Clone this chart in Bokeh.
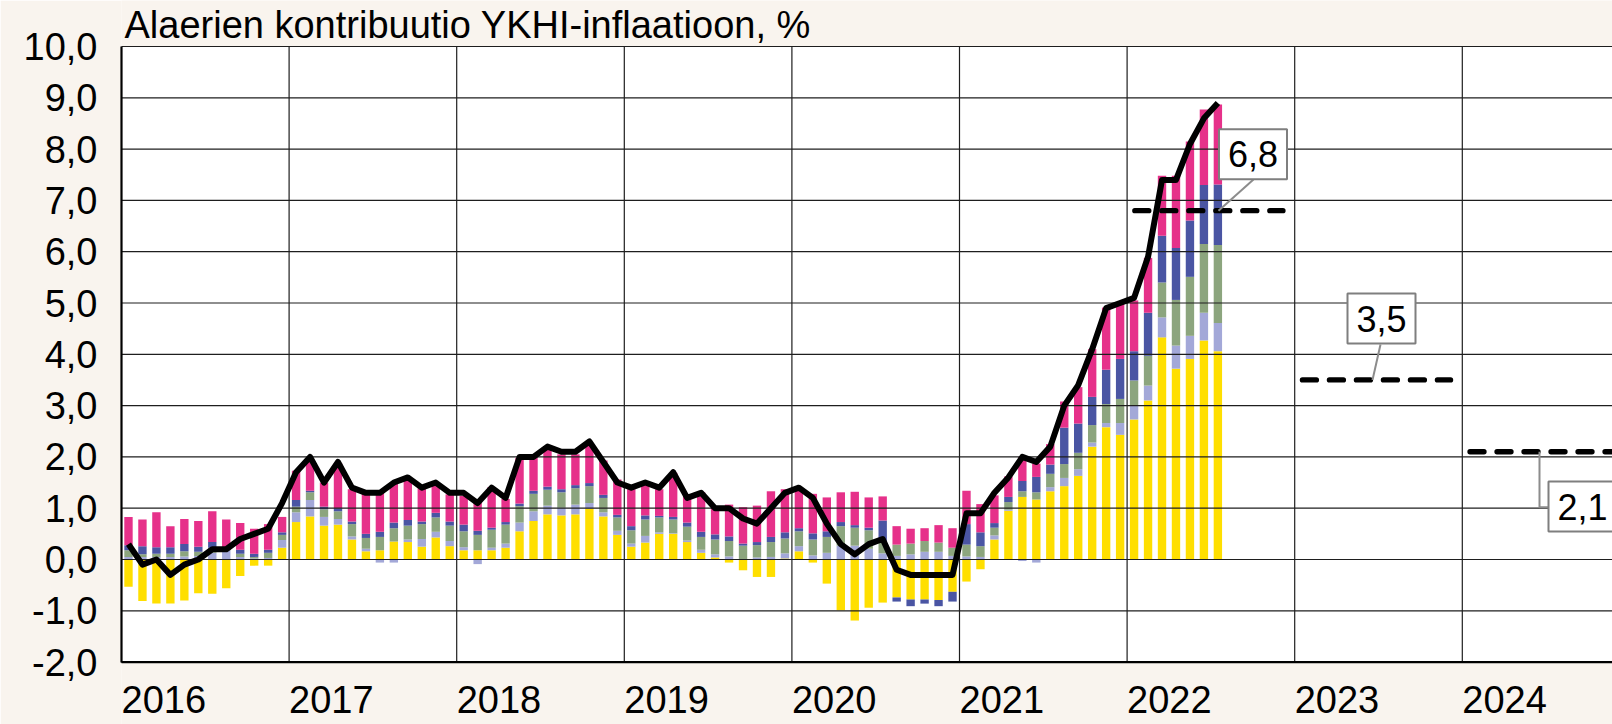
import numpy as np
from bokeh.plotting import figure
from bokeh.models import ColumnDataSource, FixedTicker
from bokeh.core.properties import value
from bokeh.embed import file_html
from bokeh.resources import INLINE

# ---------------- data ----------------
title_text = "Alaerien kontribuutio YKHI-inflaatioon, %"
start_year = 2016
year_ticks = [2016, 2017, 2018, 2019, 2020, 2021, 2022, 2023, 2024]
year_labels = ["2016", "2017", "2018", "2019", "2020", "2021", "2022", "2023", "2024"]
y_ticks = [-2, -1, 0, 1, 2, 3, 4, 5, 6, 7, 8, 9, 10]
y_labels = ["-2,0", "-1,0", "0,0", "1,0", "2,0", "3,0", "4,0", "5,0",
            "6,0", "7,0", "8,0", "9,0", "10,0"]

# monthly contributions, Jan 2016 - Jul 2022 (percentage points)
energy = [
    -0.53, -0.81, -0.86, -0.86, -0.80, -0.66, -0.67, -0.56, -0.32, -0.12, -0.12, 0.23,
    0.73, 0.84, 0.66, 0.68, 0.39, 0.16, 0.18, 0.35, 0.34, 0.25, 0.43, 0.26,
    0.18, 0.18, 0.18, 0.23, 0.55, 0.75, 0.88, 0.86, 0.88, 0.99, 0.84, 0.48,
    0.25, 0.33, 0.50, 0.50, 0.34, 0.13, 0.04, -0.06, -0.21, -0.34, -0.34, 0.02,
    0.16, -0.06, -0.47, -0.99, -1.19, -0.94, -0.84, -0.74, -0.78, -0.78, -0.79, -0.63,
    -0.43, -0.19, 0.39, 0.95, 1.22, 1.17, 1.33, 1.43, 1.63, 2.20, 2.58, 2.43,
    2.73, 3.10, 4.33, 3.72, 3.91, 4.27, 4.06,
]
unprocessed_food = [
    0.05, 0.05, 0.05, 0.05, 0.06, 0.07, 0.13, 0.18, 0.05, 0.02, 0.03, 0.15,
    0.19, 0.32, 0.17, 0.11, 0.06, 0.05, -0.06, -0.06, 0.05, 0.15, 0.11, 0.10,
    0.06, -0.09, 0.05, 0.08, 0.17, 0.19, 0.17, 0.15, 0.19, 0.11, 0.08, 0.08,
    0.06, 0.13, 0.03, 0.01, 0.03, 0.06, 0.06, 0.06, 0.00, 0.04, 0.05, 0.10,
    0.10, 0.08, 0.13, 0.27, 0.27, 0.21, 0.12, 0.07, 0.10, 0.15, 0.15, 0.07,
    0.06, 0.05, 0.08, 0.02, -0.03, -0.06, 0.08, 0.16, 0.13, 0.08, 0.08, 0.23,
    0.27, 0.29, 0.39, 0.45, 0.45, 0.54, 0.55,
]
processed_food = [
    0.13, 0.05, 0.06, 0.06, 0.10, 0.08, 0.10, 0.03, 0.06, 0.03, 0.10, 0.10,
    0.11, 0.15, 0.15, 0.15, 0.24, 0.21, 0.26, 0.26, 0.27, 0.29, 0.28, 0.30,
    0.31, 0.30, 0.35, 0.37, 0.32, 0.34, 0.31, 0.30, 0.32, 0.33, 0.28, 0.26,
    0.26, 0.32, 0.29, 0.27, 0.27, 0.25, 0.29, 0.30, 0.27, 0.24, 0.29, 0.29,
    0.29, 0.31, 0.31, 0.38, 0.35, 0.36, 0.23, 0.22, 0.21, 0.21, 0.18, 0.16,
    0.23, 0.21, 0.15, 0.15, 0.11, 0.14, 0.26, 0.27, 0.32, 0.34, 0.37, 0.47,
    0.49, 0.58, 0.68, 0.89, 1.15, 1.34, 1.52,
]
industrial_goods = [
    0.10, 0.16, 0.13, 0.13, 0.14, 0.10, 0.11, 0.02, 0.08, 0.06, 0.06, 0.05,
    0.13, 0.03, 0.05, 0.06, 0.05, 0.08, 0.10, 0.11, 0.11, 0.05, 0.09, 0.08,
    0.13, 0.08, 0.04, 0.05, 0.05, 0.06, 0.06, 0.06, 0.06, 0.06, 0.06, 0.05,
    0.08, 0.08, 0.03, 0.05, 0.08, 0.10, 0.10, 0.09, 0.04, 0.06, 0.10, 0.12,
    0.06, 0.12, 0.11, 0.08, 0.05, 0.05, 0.41, -0.08, -0.13, -0.08, -0.12, -0.19,
    0.40, 0.27, 0.09, 0.10, 0.20, 0.30, 0.18, 0.71, 0.57, 0.55, 0.67, 0.78,
    0.57, 0.84, 0.91, 1.01, 1.10, 1.15, 1.18,
]
services = [
    0.55, 0.52, 0.68, 0.41, 0.49, 0.50, 0.60, 0.55, 0.52, 0.49, 0.50, 0.30,
    0.57, 0.58, 0.47, 0.88, 0.63, 0.81, 0.76, 0.77, 0.79, 0.65, 0.54, 0.53,
    0.56, 0.55, 0.79, 0.45, 0.89, 0.65, 0.72, 0.68, 0.60, 0.73, 0.67, 0.69,
    0.72, 0.66, 0.52, 0.86, 0.52, 0.77, 0.54, 0.62, 0.71, 0.71, 0.89, 0.84,
    0.77, 0.77, 0.66, 0.58, 0.65, 0.59, 0.47, 0.36, 0.29, 0.25, 0.34, 0.38,
    0.65, 0.55, 0.54, 0.40, 0.47, 0.26, 0.40, 0.51, 0.71, 0.93, 1.21, 1.09,
    0.99, 1.07, 1.17, 1.41, 1.54, 1.47, 1.56,
]
hicp = [
    0.3, -0.1, 0.0, -0.3, -0.1, 0.0, 0.2, 0.2, 0.4, 0.5, 0.6, 1.1,
    1.7, 2.0, 1.5, 1.9, 1.4, 1.3, 1.3, 1.5, 1.6, 1.4, 1.5, 1.3,
    1.3, 1.1, 1.4, 1.2, 2.0, 2.0, 2.2, 2.1, 2.1, 2.3, 1.9, 1.5,
    1.4, 1.5, 1.4, 1.7, 1.2, 1.3, 1.0, 1.0, 0.8, 0.7, 1.0, 1.3,
    1.4, 1.2, 0.7, 0.3, 0.1, 0.3, 0.4, -0.2, -0.3, -0.3, -0.3, -0.3,
    0.9, 0.9, 1.3, 1.6, 2.0, 1.9, 2.2, 3.0, 3.4, 4.1, 4.9, 5.0,
    5.1, 5.9, 7.4, 7.4, 8.1, 8.6, 8.9,
]

forecast_years = [2022, 2023, 2024]
forecast_values = [6.8, 3.5, 2.1]
forecast_texts = ["6,8", "3,5", "2,1"]

# ---------------- layout / styling ----------------
FONT = "Liberation Sans"
BEIGE = "#F9F4EE"
GRID = "#1e1e1e"
colors = ["#FFDF00", "#A3A8D8", "#8CA57E", "#4A55A3", "#E6318A"]
components = [energy, unprocessed_food, processed_food, industrial_goods, services]

W, H = 1612, 724
FRAME_LEFT = 121          # px of the plot box left edge
PLOT_TOP_PX = 46          # px of the y = 10 line
PX_PER_UNIT = 51.3
PX_PER_YEAR = 167.6

y_top = y_ticks[-1] + PLOT_TOP_PX / PX_PER_UNIT
y_bottom = y_top - H / PX_PER_UNIT
x_end = start_year + (W - FRAME_LEFT) / PX_PER_YEAR

def ypx(px):   # pixel row -> data y
    return y_top - px / PX_PER_UNIT

def xpx(px):   # pixel column -> data x
    return start_year + (px - FRAME_LEFT) / PX_PER_YEAR

p = figure(width=W, height=H, x_range=(start_year, x_end), y_range=(y_bottom, y_top),
           output_backend="svg", toolbar_location=None, title=None,
           x_axis_location=None,
           min_border_left=FRAME_LEFT, min_border_right=0, min_border_top=0,
           min_border_bottom=0,
           background_fill_color=BEIGE, border_fill_color=BEIGE,
           outline_line_color=None)
p.xgrid.visible = False
p.ygrid.visible = False

# white plot box
p.quad(left=[start_year], right=[x_end], bottom=[y_ticks[0]], top=[y_ticks[-1]],
       fill_color="white", line_color=None, level="image")

# y axis (labels only, bounded)
ax = p.yaxis[0]
ax.ticker = FixedTicker(ticks=y_ticks)
ax.bounds = (y_ticks[0], y_ticks[-1])
ax.major_label_overrides = {t: l for t, l in zip(y_ticks, y_labels)}
ax.major_label_text_font = FONT
ax.major_label_text_font_size = "38px"
ax.major_label_text_color = "black"
ax.major_label_standoff = 18
ax.major_tick_line_color = None
ax.minor_tick_line_color = None
ax.axis_line_color = "black"
ax.axis_line_width = 2.2

# stacked bars
n = len(hicp)
xm = np.array([start_year + (i + 0.5) / 12 for i in range(n)])
pos = np.zeros(n)
neg = np.zeros(n)
for vals, col in zip(components, colors):
    v = np.asarray(vals, dtype=float)
    base = np.where(v >= 0, pos, neg)
    top = base + v
    src = ColumnDataSource(dict(x=xm, bottom=base, top=top))
    p.vbar(x="x", bottom="bottom", top="top", width=0.6 / 12, source=src,
           fill_color=col, line_color=None)
    pos = np.where(v >= 0, top, pos)
    neg = np.where(v < 0, top, neg)

# grid lines (over the bars, as in the original)
p.segment(x0=[start_year] * len(y_ticks), x1=[x_end] * len(y_ticks), y0=y_ticks, y1=y_ticks,
          line_color=GRID, line_width=1.2, level="guide")
p.segment(x0=year_ticks[1:], x1=year_ticks[1:], y0=[y_ticks[0]] * (len(year_ticks) - 1),
          y1=[y_ticks[-1]] * (len(year_ticks) - 1), line_color=GRID, line_width=1.2, level="guide")
p.segment(x0=[start_year], x1=[x_end], y0=[y_ticks[0]], y1=[y_ticks[0]],
          line_color="black", line_width=2.4, level="guide")

# headline line
p.line(xm, hicp, line_color="black", line_width=6, line_join="round", level="overlay")

# forecast dashed lines
fx0 = [yr + 0.046 for yr in forecast_years]
fx1 = [yr + 0.93 for yr in forecast_years]
p.segment(x0=fx0, y0=forecast_values, x1=fx1, y1=forecast_values,
          line_color="black", line_width=5.3, line_dash="14 13", line_cap="round",
          level="overlay")

# callout leaders, boxes and texts
box_x = [xpx(1252.5), xpx(1381), xpx(1582)]
box_y = [ypx(153.7), ypx(318), ypx(506)]
lead_xs = [[xpx(1218), xpx(1253)], [xpx(1372), xpx(1380)], [xpx(1539), xpx(1539), xpx(1550)]]
lead_ys = [[forecast_values[0], ypx(179)], [forecast_values[1], ypx(344)],
           [forecast_values[2], ypx(506.7), ypx(506.7)]]
p.multi_line(xs=lead_xs, ys=lead_ys, line_color="#8C8C8C", line_width=2, level="overlay")
p.rect(x=box_x, y=box_y, width=68, height=50, width_units="screen", height_units="screen",
       fill_color="white", line_color="#7F7F7F", line_width=2, level="overlay")
p.text(x=box_x, y=box_y, text=forecast_texts, text_align="center", text_baseline="middle",
       text_font=value(FONT), text_font_size="36px", text_color="black", level="overlay")

# year labels under the plot
p.text(x=year_ticks, y=[ypx(699)] * len(year_ticks), text=year_labels,
       text_align="left", text_baseline="alphabetic", text_font=value(FONT),
       text_font_size="38px", text_color="black", level="overlay")

# title
p.text(x=[xpx(124)], y=[ypx(24.5)], text=[title_text], text_align="left",
       text_baseline="alphabetic", text_font=value(FONT), text_font_size="38px",
       text_color="black", level="overlay")

open("out.html", "w").write(file_html(p, INLINE))
